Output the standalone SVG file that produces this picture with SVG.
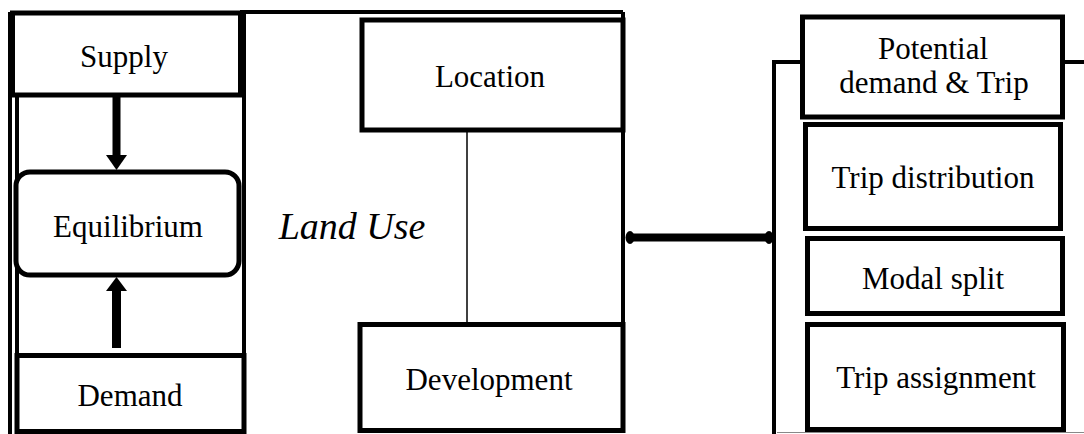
<svg xmlns="http://www.w3.org/2000/svg" width="1084" height="434" viewBox="0 0 1084 434">
  <style>
    .box { fill: #fff; stroke: #000; stroke-width: 5; }
    .frame { fill: none; stroke: #000; stroke-width: 4; }
    text { font-family: 'Liberation Serif', 'DejaVu Serif', serif; font-size: 31px; fill: #000; text-anchor: middle; }
    .it { font-style: italic; font-size: 38px; }
  </style>
  <rect width="1084" height="434" fill="#fff"/>

  <!-- panel frames -->
  <g id="frames">
    <line class="frame" x1="10" y1="12" x2="10" y2="434" stroke-width="4"/>
    <line class="frame" x1="17" y1="95" x2="17" y2="434" stroke-width="3"/>
    <line class="frame" x1="244" y1="12" x2="244" y2="434"/>
    <line class="frame" x1="240" y1="12" x2="623" y2="12"/>
    <line class="frame" x1="623" y1="12" x2="623" y2="325"/>
    <polyline class="frame" points="774,434 774,62 803,62"/>
    <line class="frame" x1="1063" y1="62" x2="1084" y2="62"/>
    <line x1="777" y1="432.5" x2="1084" y2="432.5" stroke="#888" stroke-width="1"/>
  </g>

  <!-- left panel -->
  <g id="supply">
    <rect class="box" x="12.5" y="13" width="228" height="82" stroke-width="6"/>
    <text x="124" y="67">Supply</text>
  </g>
  <g id="equilibrium">
    <rect class="box" x="16" y="172" width="223" height="103" rx="14"/>
    <text x="128" y="237">Equilibrium</text>
  </g>
  <g id="demand">
    <rect class="box" x="17" y="355.5" width="227" height="76"/>
    <text x="130" y="406">Demand</text>
  </g>

  <!-- middle panel -->
  <g id="location">
    <rect class="box" x="362" y="20" width="261" height="110"/>
    <text x="490" y="87">Location</text>
  </g>
  <g id="development">
    <rect class="box" x="360" y="324.5" width="263" height="106"/>
    <text x="489" y="390">Development</text>
  </g>
  <g id="land-use">
    <text class="it" x="352" y="239">Land Use</text>
  </g>

  <!-- right panel -->
  <g id="potential">
    <rect class="box" x="802.5" y="17" width="260" height="100"/>
    <text x="933" y="59">Potential</text>
    <text x="934" y="93">demand &amp; Trip</text>
  </g>
  <g id="trip-distribution">
    <rect class="box" x="805.5" y="124.5" width="255" height="104"/>
    <text x="933" y="188">Trip distribution</text>
  </g>
  <g id="modal-split">
    <rect class="box" x="807.5" y="238.5" width="255" height="75"/>
    <text x="933" y="289">Modal split</text>
  </g>
  <g id="trip-assignment">
    <rect class="box" x="807.5" y="324.5" width="256" height="105"/>
    <text x="936" y="388">Trip assignment</text>
  </g>

  <!-- connectors -->
  <g id="connectors">
    <rect x="112.5" y="95" width="8" height="60" fill="#000"/>
    <polygon points="106,155 127,155 116.5,170" fill="#000"/>
    <polygon points="116.5,277 106,291 127,291" fill="#000"/>
    <rect x="112" y="291" width="9" height="57" fill="#000"/>
    <line x1="467" y1="131" x2="467" y2="322" stroke="#000" stroke-width="1.5"/>
    <line x1="630" y1="237.5" x2="769" y2="237.5" stroke="#000" stroke-width="8"/>
    <ellipse cx="630" cy="237.5" rx="4.5" ry="6.5" fill="#000"/>
    <ellipse cx="769" cy="237.5" rx="4.5" ry="6.5" fill="#000"/>
  </g>
</svg>
